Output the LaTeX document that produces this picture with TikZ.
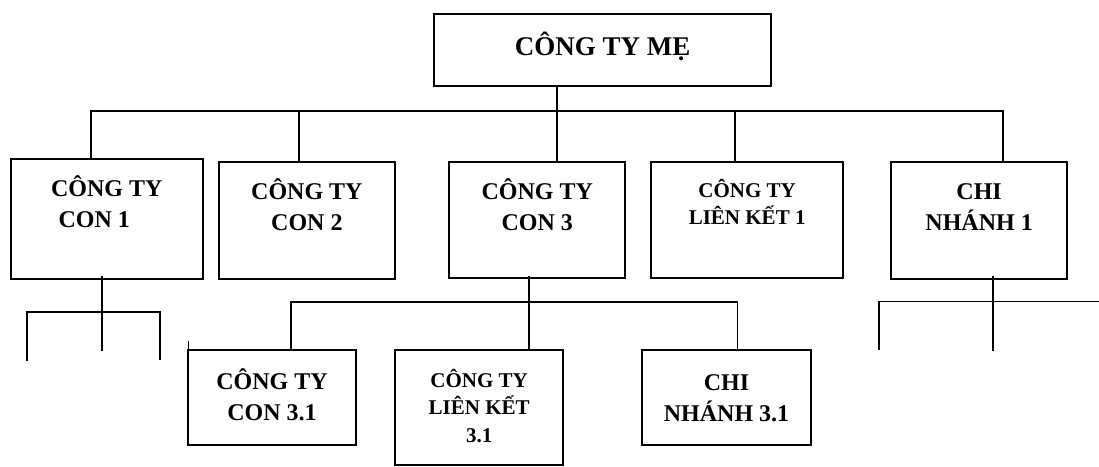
\documentclass[tikz,border=0pt]{standalone}
\usepackage{fontspec}
\setmainfont{Liberation Serif}
\begin{document}
\begin{tikzpicture}[x=1pt,y=-1pt,
  box/.style={draw=black, line width=2pt, inner sep=0pt, outer sep=0pt},
  link/.style={draw=black, line width=2pt},
  sublink/.style={draw=black, line width=1.6pt},
  lbl/.style={inner sep=0pt, anchor=base, font=\bfseries\fontsize{24}{31}\selectfont},
  lblsm/.style={inner sep=0pt, anchor=base, font=\bfseries\fontsize{21}{27.5}\selectfont},
  lbltop/.style={inner sep=0pt, anchor=base, font=\bfseries\fontsize{27}{32}\selectfont},
]
\useasboundingbox (0,0) rectangle (1099,466);

% boxes
\node[box, minimum width=336.7pt, minimum height=71.7pt] (top) at (602.65,49.85) {};
\node[box, minimum width=192pt, minimum height=119.7pt] (con1) at (106.7,218.85) {};
\node[box, minimum width=176.3pt, minimum height=116.5pt] (con2) at (306.85,220.25) {};
\node[box, minimum width=176pt, minimum height=116.3pt] (con3) at (537.3,220.15) {};
\node[box, minimum width=192.3pt, minimum height=116.3pt] (lk1) at (747.15,220.15) {};
\node[box, minimum width=176.3pt, minimum height=117pt] (cn1) at (979.15,220.2) {};
\node[box, minimum width=167.4pt, minimum height=95.5pt] (c31) at (272,397.25) {};
\node[box, minimum width=168.3pt, minimum height=114.7pt] (lk31) at (479.15,407.65) {};
\node[box, minimum width=168.4pt, minimum height=95.3pt] (cn31) at (726.5,397.35) {};

% labels
\node[lbltop] (ttop) at (602.65,55) {CÔNG TY MẸ};
\node[lbl] (tcon1) at (106.7,196.5) {\begin{tabular}[t]{@{}c@{}}CÔNG TY\\CON 1\kern25pt\end{tabular}};
\node[lbl] (tcon2) at (306.85,199) {\begin{tabular}[t]{@{}c@{}}CÔNG TY\\CON 2\end{tabular}};
\node[lbl] (tcon3) at (537.3,199) {\begin{tabular}[t]{@{}c@{}}CÔNG TY\\CON 3\end{tabular}};
\node[lblsm] (tlk1) at (747.15,197) {\begin{tabular}[t]{@{}c@{}}CÔNG TY\\LIÊN KẾT 1\end{tabular}};
\node[lbl] (tcn1) at (979.15,199.5) {\begin{tabular}[t]{@{}c@{}}CHI\\NHÁNH 1\end{tabular}};
\node[lbl] (tc31) at (272,389) {\begin{tabular}[t]{@{}c@{}}CÔNG TY\\CON 3.1\end{tabular}};
\node[lblsm] (tlk31) at (479.15,387) {\begin{tabular}[t]{@{}c@{}}CÔNG TY\\LIÊN KẾT\\3.1\end{tabular}};
\node[lbl] (tcn31) at (726.5,390) {\begin{tabular}[t]{@{}c@{}}CHI\\NHÁNH 3.1\end{tabular}};

% main bus
\coordinate (xa) at (90.7,110.7);
\coordinate (xb) at (299,110.7);
\coordinate (xc) at (556.7,110.7);
\coordinate (xd) at (735.3,110.7);
\coordinate (xe) at (1003.3,110.7);
\draw[link] (con1.north -| xa) -- (xa) -- (xe) -- (cn1.north -| xe);
\draw[link] (xb) -- (con2.north -| xb);
\draw[link] (top.south -| xc) -- (con3.north -| xc);
\draw[link] (xd) -- (lk1.north -| xd);

% branches under CON 1
\coordinate (s1) at (102.3,312);
\coordinate (s1b) at (102.3,351.3);
\coordinate (s1l) at (26.7,360.7);
\coordinate (s1r) at (160,359.7);
\draw[link] ([yshift=2.4pt]con1.south -| s1) -- (s1b);
\draw[link] (s1l) |- (s1) -| (s1r);

% branches under CON 3
\coordinate (s3) at (529,301.7);
\coordinate (s3l) at (291,301.7);
\coordinate (s3r) at (737.3,301.7);
\draw[sublink] ([yshift=2.4pt]con3.south -| s3) -- (lk31.north -| s3);
\draw[sublink] (c31.north -| s3l) -- (s3l) -- (s3r) -- (cn31.north -| s3r);
\draw[sublink] (c31.north west) -- ++(0,-9);

% branches under CHI NHÁNH 1
\coordinate (s5) at (992.7,301.3);
\coordinate (s5b) at (992.7,351.3);
\coordinate (s5l) at (879,349.7);
\coordinate (s5r) at (1099,301.3);
\draw[sublink] ([yshift=2.4pt]cn1.south -| s5) -- (s5b);
\draw[sublink] (s5l) |- (s5r);
\end{tikzpicture}
\end{document}
